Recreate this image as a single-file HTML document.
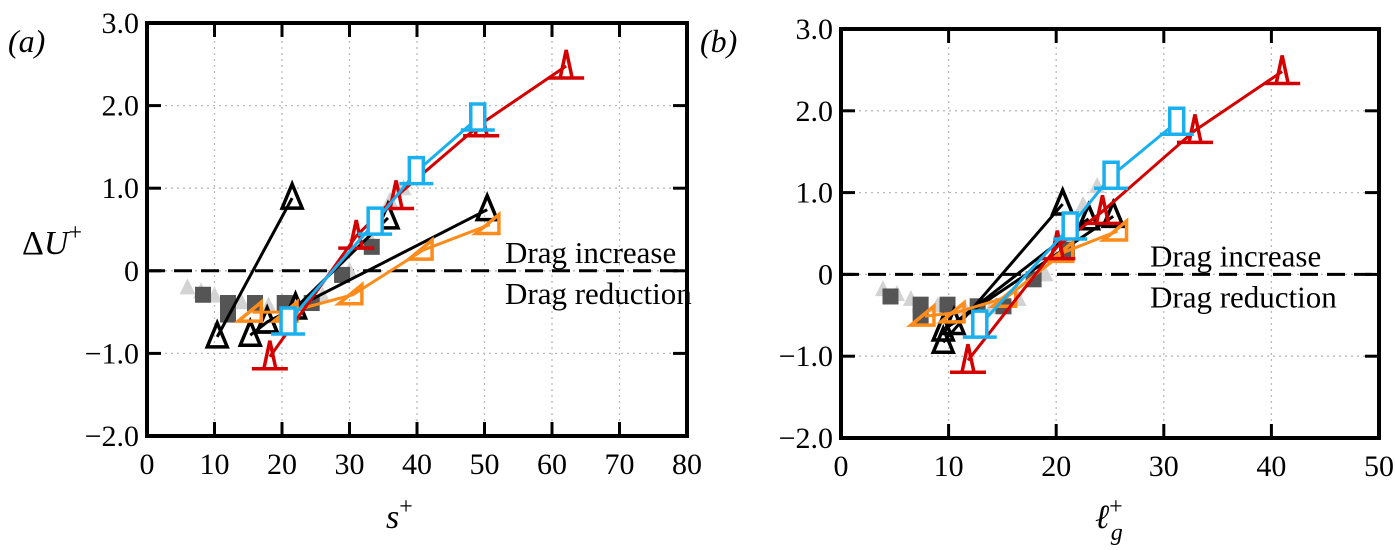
<!DOCTYPE html>
<html><head><meta charset="utf-8"><style>
body{margin:0;background:#fff;}
svg{display:block;font-family:"Liberation Serif","DejaVu Serif",serif;}
svg text{font-family:"Liberation Serif","DejaVu Serif",serif;}
</style></head><body>
<svg id="fig" width="1395" height="550" viewBox="0 0 1395 550" xmlns="http://www.w3.org/2000/svg" font-family="'Liberation Serif', 'DejaVu Serif', serif">
<text x="8" y="52" font-size="32" font-style="italic">(a)</text>
<text x="700" y="52" font-size="32" font-style="italic">(b)</text>
<text x="22" y="254" font-size="34">Δ<tspan font-style="italic">U</tspan><tspan font-size="24" dy="-14">+</tspan></text>
<text x="386" y="528" font-size="34" font-style="italic">s<tspan font-size="24" dy="-14" font-style="normal">+</tspan></text>
<text x="1095" y="528" font-size="34" font-style="italic">ℓ<tspan font-size="24" dy="-14" font-style="normal">+</tspan><tspan font-size="24" dx="-12" dy="26">g</tspan></text>
</svg>
<script>
const aRedX=[18.2,31.0,36.9,49.5,62.1];
const aRedY=[-1.04,0.42,0.9,1.78,2.48];
const aBlueX=[20.9,33.8,39.9,49.0];
const aBlueY=[-0.62,0.59,1.2,1.85];
const aBlk1X=[10.4,21.5];
const aBlk1Y=[-0.8,0.88];
const aBlk2X=[15.3,17.8,50.4];
const aBlk2Y=[-0.78,-0.62,0.74];
const aBlk3X=[17.8,22.0,35.7];
const aBlk3Y=[-0.62,-0.45,0.64];
const aOrX=[15.6,20.9,30.5,40.9,50.8];
const aOrY=[-0.5,-0.5,-0.29,0.25,0.56];
const aDgX=[8.3,12,12,16,20.4,24.4,28.9,33.3];
const aDgY=[-0.29,-0.39,-0.53,-0.39,-0.39,-0.39,-0.05,0.29];
const aLgX=[6,8,10,14,18,22,26,30,33,36,38];
const aLgY=[-0.2,-0.25,-0.3,-0.38,-0.42,-0.4,-0.3,0.0,0.4,0.85,1.0];
const bRedX=[11.8,20.1,24.3,32.9,41.0];
const bRedY=[-1.05,0.34,0.77,1.76,2.48];
const bBlueX=[12.9,21.3,25.1,31.2];
const bBlueY=[-0.62,0.58,1.2,1.86];
const bBlk1X=[9.5,20.6];
const bBlk1Y=[-0.83,0.86];
const bBlk2X=[9.5,25.3];
const bBlk2Y=[-0.68,0.71];
const bBlk3X=[10.5,23.0];
const bBlk3Y=[-0.6,0.68];
const bOrX=[7.8,10.6,15.4,20.7,25.7];
const bOrY=[-0.51,-0.47,-0.28,0.27,0.53];
const bDgX=[4.6,7.4,7.4,9.9,12.7,15.1,17.9,21.0];
const bDgY=[-0.27,-0.37,-0.51,-0.37,-0.39,-0.39,-0.06,0.3];
const bLgX=[3.9,5.2,6.5,9,11.5,14,16.5,19,21,22.5,23.8];
const bLgY=[-0.18,-0.24,-0.3,-0.38,-0.42,-0.4,-0.3,0.0,0.4,0.85,1.08];
const yTicks=[3,2,1,0,-1,-2];
const yTickLabels=["3.0","2.0","1.0","0","\u22121.0","\u22122.0"];
const aXTicks=[0,10,20,30,40,50,60,70,80];
const bXTicks=[0,10,20,30,40,50];

const NS="http://www.w3.org/2000/svg";
const svg=document.getElementById('fig');
function mk(tag,attrs,parent){const e=document.createElementNS(NS,tag);for(const k in attrs)e.setAttribute(k,attrs[k]);(parent||svg).appendChild(e);return e;}

function panel(id,L,R,T,B,xmax,xTicks,series){
  const g=mk('g',{});
  
  
  const sx=v=>L+(R-L)*v/xmax;
  const sy=v=>B-(B-T)*(v+2)/5;
  xTicks.forEach(t=>{if(t>0&&t<xmax){const l=mk('line',{x1:sx(t),x2:sx(t),y1:T,y2:B,stroke:'#bbb','stroke-width':1.3,'stroke-dasharray':'2,4'},g);}});
  yTicks.forEach(t=>{if(t>-2&&t<3){const l=mk('line',{x1:L,x2:R,y1:sy(t),y2:sy(t),stroke:'#bbb','stroke-width':1.3,'stroke-dasharray':'2,4'},g);}});
  const z=mk('line',{x1:L,x2:R,y1:sy(0),y2:sy(0),stroke:'#000','stroke-width':3,'stroke-dasharray':'18,9'},g);
  
  series.forEach(s=>drawSeries(g,s,sx,sy));
  const f=mk('rect',{x:L,y:T,width:R-L,height:B-T,fill:'none',stroke:'#000','stroke-width':4},g);
  
  xTicks.forEach(t=>{
    if(t>0&&t<xmax){mk('line',{x1:sx(t),x2:sx(t),y1:B,y2:B-14,stroke:'#000','stroke-width':3},g);mk('line',{x1:sx(t),x2:sx(t),y1:T,y2:T+14,stroke:'#000','stroke-width':3},g);}
    const tx=mk('text',{x:sx(t),y:B+38,'font-size':30,'text-anchor':'middle'},g);tx.textContent=t;
    
  });
  yTicks.forEach((t,i)=>{
    if(t>-2&&t<3){mk('line',{x1:L,x2:L+14,y1:sy(t),y2:sy(t),stroke:'#000','stroke-width':3},g);mk('line',{x1:R,x2:R-14,y1:sy(t),y2:sy(t),stroke:'#000','stroke-width':3},g);}
    const tx=mk('text',{x:L-8,y:sy(t)+10,'font-size':30,'text-anchor':'end'},g);tx.textContent=yTickLabels[i];
    
  });
  const lx=id==='a'?505:1150;
  const t1=mk('text',{x:lx,y:sy(0)-8,'font-size':31},g);t1.textContent='Drag increase';
  
  const t2=mk('text',{x:lx,y:sy(0)+33,'font-size':31},g);t2.textContent='Drag reduction';
  
}

function drawSeries(g,s,sx,sy){
  const sg=mk('g',{},g);
  
  
  if(s.line){
    const pts=s.x.map((v,i)=>sx(v)+','+sy(s.y[i])).join(' ');
    mk('polyline',{points:pts,fill:'none',stroke:s.color,'stroke-width':3},sg);
  }
  s.x.forEach((v,i)=>{
    const X=sx(v),Y=sy(s.y[i]);let m;
    if(s.mk==='red'){m=mk('path',{d:`M${X-6},${Y+12} L${X},${Y-16} L${X+6},${Y+12} M${X-18},${Y+12} L${X+18},${Y+12}`,fill:'none',stroke:s.color,'stroke-width':3.5},sg);}
    else if(s.mk==='blue'){m=mk('path',{d:`M${X-7},${Y+12} L${X-7},${Y-14} L${X+7},${Y-14} L${X+7},${Y+12} M${X-17},${Y+12} L${X+17},${Y+12}`,fill:'#fff',stroke:s.color,'stroke-width':3.5},sg);}
    else if(s.mk==='blk'){m=mk('path',{d:`M${X-10},${Y+10} L${X},${Y-14} L${X+10},${Y+10} Z`,fill:'none',stroke:s.color,'stroke-width':3.5},sg);}
    else if(s.mk==='or'){m=mk('path',{d:`M${X-14},${Y+9} L${X+9},${Y-10} L${X+9},${Y+9} Z`,fill:'none',stroke:s.color,'stroke-width':3.5},sg);}
    else if(s.mk==='dg'){m=mk('rect',{x:X-8,y:Y-8,width:16,height:16,fill:s.color},sg);}
    else {m=mk('path',{d:`M${X-8},${Y+7} L${X},${Y-9} L${X+8},${Y+7} Z`,fill:s.color},sg);}
    
    
  });
}

function seriesSet(p){
  return [
    {name:'light-gray-series',x:p.LgX,y:p.LgY,color:'#d3d3d3',mk:'lg'},
    {name:'dark-gray-series',x:p.DgX,y:p.DgY,color:'#555',mk:'dg'},
    {name:'black-series-1',x:p.B1X,y:p.B1Y,color:'#000',mk:'blk',line:1},
    {name:'black-series-2',x:p.B2X,y:p.B2Y,color:'#000',mk:'blk',line:1},
    {name:'black-series-3',x:p.B3X,y:p.B3Y,color:'#000',mk:'blk',line:1},
    {name:'orange-series',x:p.OrX,y:p.OrY,color:'#ff8c1a',mk:'or',line:1},
    {name:'red-series',x:p.RedX,y:p.RedY,color:'#d40000',mk:'red',line:1},
    {name:'blue-series',x:p.BlueX,y:p.BlueY,color:'#1ab0ef',mk:'blue',line:1}
  ];
}
panel('a',147,687,23,436,80,aXTicks,seriesSet({LgX:aLgX,LgY:aLgY,DgX:aDgX,DgY:aDgY,B1X:aBlk1X,B1Y:aBlk1Y,B2X:aBlk2X,B2Y:aBlk2Y,B3X:aBlk3X,B3Y:aBlk3Y,OrX:aOrX,OrY:aOrY,RedX:aRedX,RedY:aRedY,BlueX:aBlueX,BlueY:aBlueY}));
panel('b',841,1379,29,438,50,bXTicks,seriesSet({LgX:bLgX,LgY:bLgY,DgX:bDgX,DgY:bDgY,B1X:bBlk1X,B1Y:bBlk1Y,B2X:bBlk2X,B2Y:bBlk2Y,B3X:bBlk3X,B3Y:bBlk3Y,OrX:bOrX,OrY:bOrY,RedX:bRedX,RedY:bRedY,BlueX:bBlueX,BlueY:bBlueY}));
</script>
</body></html>
